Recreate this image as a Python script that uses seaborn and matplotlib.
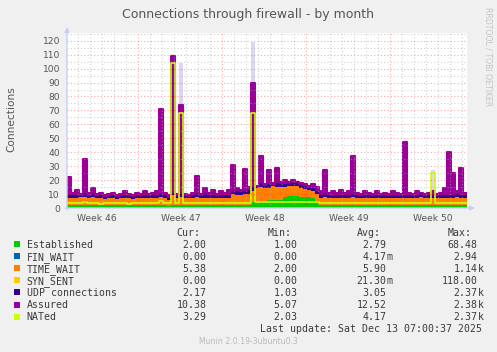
import numpy as np
import pandas as pd
import matplotlib
matplotlib.use("Agg")
import matplotlib.pyplot as plt
from matplotlib.patches import Rectangle
import seaborn as sns

# ---------------- data (one sample = 1/3 day, 100 samples) ----------------
established = [2, 2, 2, 2, 2, 2, 2, 2, 2, 2,
               2, 2, 2, 2, 2, 2, 2, 2, 2, 2,
               2, 2, 2, 2, 2, 1.5, 2, 2, 2, 2,
               2, 2, 2, 2, 2, 2, 2, 2, 2, 2,
               2, 2, 2, 2, 2, 2, 4, 5, 5, 5,
               5.5, 5.5, 6, 6, 8, 8.5, 8.5, 8.5, 8, 8,
               8, 7.5, 5, 2, 2, 2, 2, 2, 2, 2,
               2, 2, 2, 2, 2, 2, 2, 2, 2, 2,
               2, 2, 2, 2, 2, 2, 2, 2, 2, 2,
               2, 2, 2, 2, 2, 2, 2, 2, 2, 2]
fin_wait = [0, 0, 0, 0, 0, 0, 0, 0, 0, 0,
            0, 0, 0, 0, 0, 0, 0, 0, 0, 0,
            0, 0, 0, 0, 0, 0, 0, 0, 0, 0,
            0, 0, 0, 0, 0, 0, 0, 0, 0, 0,
            0, 0, 0, 0, 0, 0, 0.1, 0, 0, 0,
            0, 0, 0, 0, 0, 0, 0, 0, 0, 0,
            0, 0, 0, 0, 0, 0, 0, 0, 0, 0,
            0, 0, 0, 0, 0, 0, 0, 0, 0, 0,
            0, 0, 0, 0, 0, 0, 0, 0, 0, 0,
            0, 0, 0, 0, 0, 0, 0, 0, 0, 0]
time_wait = [5, 5.5, 5, 6, 6, 5, 6, 5, 5, 4.5,
             5, 5, 4.5, 5, 5.5, 5, 4.5, 5, 5, 5.5,
             5, 5, 5.5, 6, 5, 4, 7, 5, 6, 5,
             5, 5, 6, 5, 5.5, 5, 5, 5, 5.5, 5,
             5.5, 8, 7, 7, 8, 8, 8, 9, 10, 9,
             9, 10, 9, 9, 7, 7.5, 7, 7, 6, 5.5,
             5, 4.5, 5, 5.5, 6, 5, 5, 5.5, 5, 5,
             5.5, 6, 5, 5, 5.5, 5, 5, 5, 5.5, 5,
             5, 5.5, 5, 5, 5, 5.5, 5, 5, 6, 5,
             5, 5.5, 5, 5, 5.5, 5, 5, 6, 5.5, 5]
syn_sent = [0, 0, 0, 0, 0, 0, 0, 0, 0, 0,
            0, 0, 0, 0, 0, 0, 0, 0, 0, 0,
            0, 0, 0, 0, 0, 0, 0, 0, 0, 0,
            0, 0, 0, 0, 0, 0, 0, 0, 0, 0,
            0, 0, 0, 0, 0, 0, 0, 0, 0, 0,
            0, 0, 0, 0, 0, 0, 0, 0, 0, 0,
            0, 0, 0, 0, 0, 0, 0, 0, 0, 0,
            0, 0, 0, 0, 0, 0, 0, 0, 0, 0,
            0, 0, 0, 0, 0, 0, 0, 0, 0, 0,
            0, 0, 0, 0, 0, 0, 0, 0, 0, 0]
udp = [2, 1.5, 2, 2, 2.5, 1.5, 2, 2, 2.5, 2,
       1.5, 2, 2.5, 2, 1.5, 2, 2, 2.5, 2, 1.5,
       2, 2.5, 2, 2, 2, 2, 2, 2, 2, 2,
       2, 2.5, 2, 2, 2.5, 2, 2, 2.5, 2, 2,
       2, 2.5, 3, 2.5, 2.5, 3, 3, 2.5, 3, 2.5,
       3, 2.5, 3, 2.5, 2.5, 3, 2.5, 3, 2.5, 2.5,
       2.5, 2, 2, 2, 2, 2, 1.5, 2, 2.5, 2,
       2, 2, 2.5, 2, 1.5, 2, 2, 2.5, 2, 2,
       1.5, 2, 2.5, 2, 2, 2, 2.5, 2, 2, 2,
       2, 2, 2.5, 2, 2, 2, 2.5, 2, 2, 2]
assured = [22, 11, 13, 10, 35, 11, 14, 10, 11, 9,
           10, 11, 9, 10, 12, 10, 9, 11, 10, 12,
           10, 11, 12, 71, 11, 9, 109, 10, 74, 10,
           9, 11, 23, 10, 14, 11, 13, 10, 12, 11,
           13, 31, 14, 13, 28, 15, 90, 16, 37, 17,
           27, 18, 29, 19, 20, 19, 20, 19, 18, 17,
           16, 17, 15, 12, 27, 11, 12, 11, 13, 11,
           12, 37, 11, 10, 12, 11, 10, 12, 10, 11,
           10, 12, 11, 10, 47, 11, 10, 12, 11, 10,
           11, 12, 10, 11, 14, 40, 25, 12, 29, 11]
nated = [3.5, 3.5, 3.5, 3.5, 4, 3.5, 3.5, 3.5, 3, 3.5,
         3.5, 3.5, 3.5, 3.5, 3.5, 3, 3.5, 3.5, 3.5, 3.5,
         3.5, 3.5, 3.5, 5, 3.5, 3.5, 104, 3.5, 68, 3.5,
         3.5, 3.5, 3.5, 3.5, 3.5, 3.5, 3.5, 3.5, 3.5, 3.5,
         3.5, 3.5, 3.5, 3.5, 3.5, 3.5, 68, 4, 4, 4,
         4, 4, 4, 4, 4.5, 4.5, 4.5, 4.5, 4.5, 4.5,
         4.5, 4.5, 4.5, 3.5, 3.5, 3.5, 3.5, 3.5, 3.5, 3.5,
         3.5, 3.5, 3.5, 3.5, 3.5, 3.5, 3.5, 3.5, 3.5, 3.5,
         3.5, 3.5, 3.5, 3.5, 3.5, 3.5, 3.5, 3.5, 3.5, 3.5,
         3.5, 25, 3.5, 3.5, 3.5, 3.5, 3.5, 3.5, 3.5, 3.5]
# faint max envelope at a few samples
peak_idx = [28, 46, 91]
peak_val = [104, 119, 27]

series_names = ["Established", "FIN_WAIT", "TIME_WAIT", "SYN_SENT",
                "UDP connections", "Assured", "NATed"]
series_colors = ["#00CC00", "#0066B3", "#FF8000", "#FFCC00",
                 "#330099", "#990099", "#CCFF00"]
cur_vals = ["2.00", "0.00", "5.38", "0.00", "2.17", "10.38", "3.29"]
min_vals = ["1.00", "0.00", "2.00", "0.00", "1.03", "5.07", "2.03"]
avg_vals = ["2.79", "4.17m", "5.90", "21.30m", "3.05", "12.52", "4.17"]
max_vals = ["68.48", "2.94", "1.14k", "118.00", "2.37k", "2.38k", "2.37k"]
week_labels = ["Week 46", "Week 47", "Week 48", "Week 49", "Week 50"]
y_ticks = [0, 10, 20, 30, 40, 50, 60, 70, 80, 90, 100, 110, 120]

# ---------------- figure ----------------
sns.set_theme(style="white")
plt.rcParams["font.family"] = ["DejaVu Sans"]
W, H = 497, 352
BG = "#F0F0F0"
fig = plt.figure(figsize=(W / 100, H / 100), dpi=100, facecolor=BG)
L, R, T, B = 67, 467, 33, 208
ax = fig.add_axes([L / W, 1 - B / H, (R - L) / W, (B - T) / H])
ax.set_facecolor("white")
for s in ax.spines.values():
    s.set_visible(False)

n = len(assured)
step = 1 / 3
x_edges = np.arange(n + 1) * step
span = 400 / 12.0


def ext(v):
    v = np.asarray(v, dtype=float)
    return np.append(v, v[-1])


# faint max envelope
peaks = np.zeros(n)
peaks[peak_idx] = peak_val
ax.bar(x_edges[:-1], peaks, width=step, align="edge", color="#DCD6F2",
       linewidth=0, zorder=0.5)

# stacked areas
stack = [established, fin_wait, time_wait, syn_sent, udp]
base = np.zeros(n + 1)
for vals, col in zip(stack, series_colors[:5]):
    top = base + ext(vals)
    ax.fill_between(x_edges, base, top, step="post", color=col,
                    linewidth=0, zorder=1)
    base = top

# assured: solid columns down to the stack, plus its line
a_ext = ext(assured)
ax.fill_between(x_edges, np.minimum(base, a_ext - 1.2), a_ext, step="post",
                color=series_colors[5], linewidth=0, zorder=1.5)

df = pd.DataFrame({"day": x_edges, "assured": a_ext, "nated": ext(nated)})
sns.lineplot(data=df, x="day", y="assured", ax=ax, color=series_colors[5],
             linewidth=1.5, drawstyle="steps-post", estimator=None, sort=False,
             zorder=2)
sns.lineplot(data=df, x="day", y="nated", ax=ax, color=series_colors[6],
             linewidth=1.2, drawstyle="steps-post", estimator=None, sort=False,
             zorder=2.1)

ax.set_xlim(0, span)
ax.set_ylim(0, 175 / 13.94 * 10)
ax.set_xlabel("")
ax.set_ylabel("")

# grid
week_start = 5.93
major_x = [week_start + 7 * k for k in range(4)]
minor_x = [week_start - 5 + k for k in range(33) if (k - 5) % 7 != 0]
ax.set_xticks(major_x)
ax.set_xticks(minor_x, minor=True)
ax.set_xticklabels([])
ax.set_yticks(y_ticks)
ax.set_yticks([v + 5 for v in y_ticks], minor=True)
ax.set_yticklabels([str(v) for v in y_ticks])
ax.tick_params(axis="y", which="both", length=0, pad=5, labelsize=6.6,
               labelcolor="#555555")
ax.tick_params(axis="x", which="major", length=2, width=0.8, color="#F08080",
               direction="out")
ax.tick_params(axis="x", which="minor", length=2, width=0.8, color="#C8C8C8",
               direction="out")
ax.set_axisbelow(False)
ax.grid(which="major", color="#FF0000", alpha=0.35, linestyle=(0, (1, 2)),
        linewidth=0.8)
ax.grid(which="minor", color="#B0B0B0", alpha=0.55, linestyle=(0, (1, 2)),
        linewidth=0.8)

# week labels
for i, lab in enumerate(week_labels):
    ax.text(week_start - 3.46 + 7 * i, -(220.7 - B) / (B - T), lab,
            transform=ax.get_xaxis_transform(), ha="center", va="baseline",
            fontsize=6.6, color="#555555")

# axis arrows
AX_COL = "#C9CFF5"
ax_arrow = dict(arrowstyle="-|>", color=AX_COL, lw=1.0, mutation_scale=7,
                shrinkA=0, shrinkB=0)
ax.annotate("", xy=(L, H - 27), xytext=(L, H - B - 2), xycoords="figure pixels",
            textcoords="figure pixels", arrowprops=ax_arrow, annotation_clip=False)
ax.annotate("", xy=(475, H - B), xytext=(L - 2, H - B), xycoords="figure pixels",
            textcoords="figure pixels", arrowprops=ax_arrow, annotation_clip=False)


def fx(px):
    return px / W


def fy(py):
    return 1 - py / H


# title and side texts
fig.text(fx(248), fy(18.3), "Connections through firewall - by month",
         ha="center", va="baseline", fontsize=9, color="#555555")
fig.text(fx(11), fy(119.5), "Connections", rotation=90, ha="center",
         va="center", fontsize=7.6, color="#555555")
fig.text(fx(488), fy(56.5), "RRDTOOL / TOBI OETIKER", rotation=270,
         ha="center", va="center", fontsize=5.6, color="#C4C4C4")

# legend
MONO = "DejaVu Sans Mono"
FS = 7.1
TXT = "#3A3A3A"
cw = 5.94
col_right = [206.4, 297.3, 386.7, 477.7]
headers = ["Cur:", "Min:", "Avg:", "Max:"]
for r, h in zip(col_right, headers):
    fig.text(fx(r - 5 * cw), fy(236.3), h, ha="left", va="baseline",
             family=MONO, fontsize=FS, color=TXT)

columns = [cur_vals, min_vals, avg_vals, max_vals]
for i, name in enumerate(series_names):
    yb = 247.7 + 12.07 * i
    fig.patches.append(Rectangle((fx(14), fy(yb - 0.5)), 6 / W, 6 / H,
                                 transform=fig.transFigure,
                                 color=series_colors[i], linewidth=0))
    fig.text(fx(26.7), fy(yb), name, ha="left", va="baseline",
             family=MONO, fontsize=FS, color=TXT)
    for r, col in zip(col_right, columns):
        v = col[i]
        num, suf = (v[:-1], v[-1]) if v[-1] in "mk" else (v, "")
        fig.text(fx(r), fy(yb), num, ha="right", va="baseline",
                 family=MONO, fontsize=FS, color=TXT)
        if suf:
            fig.text(fx(r), fy(yb), suf, ha="left", va="baseline",
                     family=MONO, fontsize=FS, color=TXT)

fig.text(fx(482.3), fy(331.5), "Last update: Sat Dec 13 07:00:37 2025",
         ha="right", va="baseline", family=MONO, fontsize=FS, color=TXT)
fig.text(fx(248.3), fy(344), "Munin 2.0.19-3ubuntu0.3", ha="center",
         va="baseline", fontsize=5.6, color="#BBBBBB")

fig.savefig("out.png", dpi=100, facecolor=BG)
